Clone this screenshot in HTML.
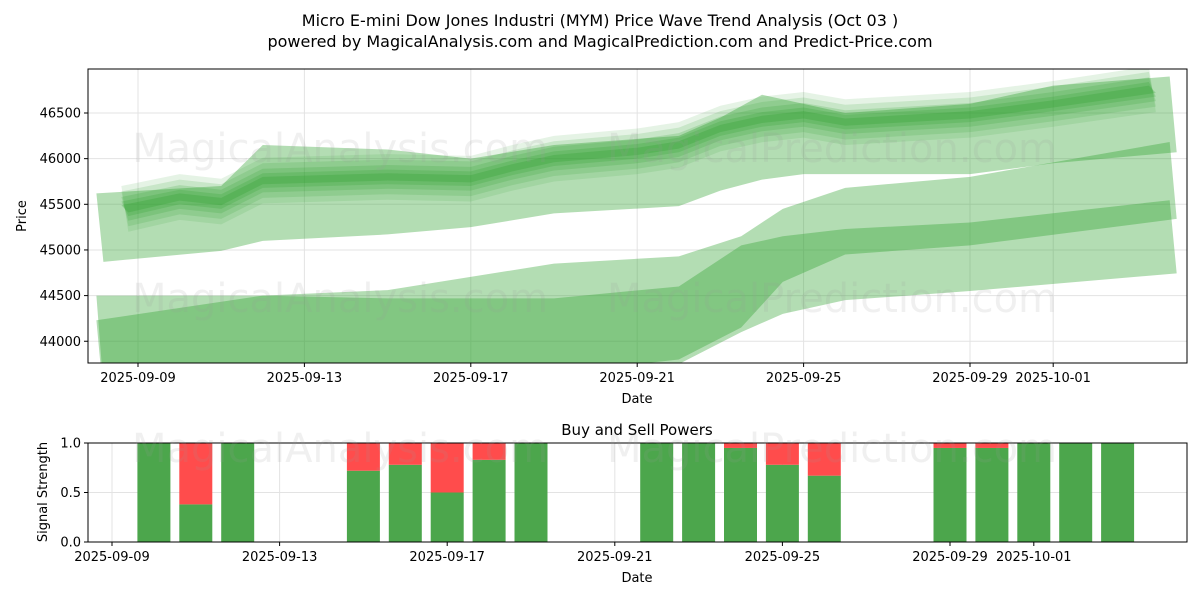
<!DOCTYPE html>
<html><head><meta charset="utf-8"><style>
body{margin:0;background:#fff;font-family:"Liberation Sans","DejaVu Sans",sans-serif}
svg text{font-family:"DejaVu Sans","Liberation Sans",sans-serif}
</style></head><body>
<svg id="chart" width="1200" height="600" xmlns="http://www.w3.org/2000/svg">
<rect width="1200" height="600" fill="#fff"/>
<text x="600" y="26" text-anchor="middle" font-size="16">Micro E-mini Dow Jones Industri (MYM) Price Wave Trend Analysis (Oct 03 )</text>
<text x="600" y="47" text-anchor="middle" font-size="16">powered by MagicalAnalysis.com and MagicalPrediction.com and Predict-Price.com</text>
<g id="topg"></g><g id="botg"></g>
</svg>
<script>
// ---- data ----
const bandDaysA=[-1.0,2.0,3.0,6.0,8.0,10.0,13.0,14.0,15.0,16.0,17.0,20.0,22.0,24.8];
const bandATop=[45620,45700,46150,46100,46000,46150,46250,46450,46700,46600,46500,46600,46800,46900];
const bandABot=[44870,44990,45100,45170,45250,45400,45480,45650,45770,45830,45830,45830,45950,46070];
const bandDaysB=[-1.0,3.0,6.0,10.0,13.0,14.5,15.5,17.0,20.0,24.8];
const bandBTop=[44500,44500,44560,44850,44930,45150,45450,45680,45800,46183];
const bandBBot=[43500,43550,43600,43650,43800,44150,44650,44950,45050,45340];
const bandCTop=[44230,44500,44470,44470,44600,45050,45150,45230,45300,45545];
const bandCBot=[43400,43450,43500,43600,43750,44100,44300,44450,44550,44744];
const mainDays=[-0.4,1,2,3,6,8,9,10,12,13,14,15,16,17,20,22,24.3];
const mainVals=[45450,45580,45530,45760,45800,45780,45900,46000,46080,46150,46330,46430,46480,46400,46480,46600,46760];
const mainWidths=[40,80,130,190,250];
const yTicks=[44000,44500,45000,45500,46000,46500];
const xTickDays=[0,4,8,12,16,20,22];
const xTickLabels=["2025-09-09","2025-09-13","2025-09-17","2025-09-21","2025-09-25","2025-09-29","2025-10-01"];
const barDays=[1,2,3,6,7,8,9,10,13,14,15,16,17,20,21,22,23,24];
const buyVals=[1,0.38,1,0.72,0.78,0.5,0.83,1,1,1,0.95,0.78,0.67,0.95,0.95,1,1,1];
const sTicks=[0,0.5,1];
// ---- scales ----
const NS="http://www.w3.org/2000/svg";
const T={l:88,r:1187,t:69,b:363}, B={l:88,r:1187,t:443,b:542};
const xT=d=>138+41.6*d, yT=p=>113+(46500-p)*0.0913;
const xB=d=>112+41.9*d, yB=v=>542-v*99;
function el(tag,attrs,parent){const e=document.createElementNS(NS,tag);for(const k in attrs)e.setAttribute(k,attrs[k]);parent.appendChild(e);return e;}
const gTop=document.getElementById('topg'), gBot=document.getElementById('botg');
function grid(g,A,isTop){
  const ticks=isTop?yTicks:sTicks;
  ticks.forEach(v=>{const y=isTop?yT(v):yB(v);
    const l=el('line',{x1:A.l,x2:A.r,y1:y,y2:y,stroke:'#e3e3e3','stroke-width':1},g);
    
    
    el('line',{x1:A.l-4,x2:A.l,y1:y,y2:y,stroke:'#000'},g);
    const t=el('text',{x:A.l-7,y:y+4.5,'text-anchor':'end','font-size':13},g);t.textContent=isTop?v:v.toFixed(1);
    
    });
  xTickDays.forEach((d,i)=>{const x=isTop?xT(d):xB(d);
    const l=el('line',{x1:x,x2:x,y1:A.t,y2:A.b,stroke:'#e3e3e3'},g);
    
    
    el('line',{x1:x,x2:x,y1:A.b,y2:A.b+4,stroke:'#000'},g);
    const t=el('text',{x:x,y:A.b+19,'text-anchor':'middle','font-size':13},g);t.textContent=xTickLabels[i];
    
    });
}
grid(gTop,T,true);
const cp=el('clipPath',{id:'cT'},gTop);el('rect',{x:T.l,y:T.t,width:T.r-T.l,height:T.b-T.t},cp);
const pg=el('g',{'clip-path':'url(#cT)'},gTop);
function band(days,tp,bt,op,name){
  let pts=days.map((d,i)=>xT(d)+','+yT(tp[i]));
  for(let i=days.length-1;i>=0;i--)pts.push((xT(days[i])+(i==0||i==days.length-1?7:0))+','+yT(bt[i]));
  const p=el('polygon',{points:pts.join(' '),fill:'rgb(44,160,44)','fill-opacity':op},pg);
  
  
}
band(bandDaysA,bandATop,bandABot,0.36,'forecast-band-upper');
band(bandDaysB,bandBTop,bandBBot,0.36,'forecast-band-middle');
band(bandDaysB,bandCTop,bandCBot,0.36,'forecast-band-lower');
mainWidths.slice().reverse().forEach((w,i)=>{
  band(mainDays,mainVals.map(v=>v+w),mainVals.map(v=>v-w),0.12+i*0.035,'price-wave-layer');
});
[[340,162,'MagicalAnalysis.com'],[832,162,'MagicalPrediction.com'],[340,312,'MagicalAnalysis.com'],[832,312,'MagicalPrediction.com'],[340,462,'MagicalAnalysis.com'],[832,462,'MagicalPrediction.com']].forEach(w=>{
  const t=el('text',{x:w[0],y:w[1],'text-anchor':'middle','font-size':40,fill:'#999','fill-opacity':0.15},document.getElementById('chart'));
  t.textContent=w[2];
  
  });
const fr=el('rect',{x:T.l,y:T.t,width:T.r-T.l,height:T.b-T.t,fill:'none',stroke:'#000'},gTop);


let t1=el('text',{x:637,y:403,'text-anchor':'middle','font-size':13},gTop);t1.textContent='Date';


let t2=el('text',{x:0,y:0,'text-anchor':'middle','font-size':13,transform:'translate(26,216) rotate(-90)'},gTop);t2.textContent='Price';


grid(gBot,B,false);
barDays.forEach((d,i)=>{const x=xB(d)-16.5;
  const g=el('rect',{x:x,y:yB(buyVals[i]),width:33,height:yB(0)-yB(buyVals[i]),fill:'#4ca64c'},gBot);
  
  
  if(buyVals[i]<1){const r=el('rect',{x:x,y:yB(1),width:33,height:yB(buyVals[i])-yB(1),fill:'#ff4c4c'},gBot);
  
  }
});
const fb=el('rect',{x:B.l,y:B.t,width:B.r-B.l,height:B.b-B.t,fill:'none',stroke:'#000'},gBot);


let t3=el('text',{x:637,y:435,'text-anchor':'middle','font-size':15},gBot);t3.textContent='Buy and Sell Powers';


let t4=el('text',{x:637,y:582,'text-anchor':'middle','font-size':13},gBot);t4.textContent='Date';


let t5=el('text',{x:0,y:0,'text-anchor':'middle','font-size':13,transform:'translate(47,492) rotate(-90)'},gBot);t5.textContent='Signal Strength';


</script>
</body></html>
